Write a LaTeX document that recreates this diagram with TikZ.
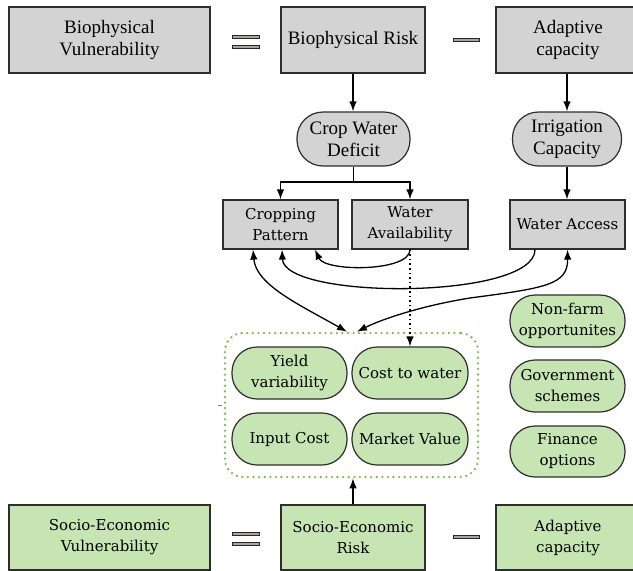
\documentclass[tikz,border=0pt]{standalone}
\usepackage{fontspec}
\setmainfont{Liberation Serif}
\newfontfamily\dvs{DejaVu Serif}
\usetikzlibrary{arrows.meta,calc}

\definecolor{boxgray}{HTML}{D3D3D3}
\definecolor{boxgreen}{HTML}{C6E5B2}
\definecolor{edge}{HTML}{2E2E2E}
\definecolor{dotgreen}{HTML}{7CC04A}
\definecolor{barfill}{HTML}{A9A898}

\tikzset{
  base/.style={draw=edge, line width=1.2pt, align=center, inner sep=0pt},
  bigtxt/.style={font=\fontsize{19}{22}\selectfont},
  midtxt/.style={font=\dvs\fontsize{15}{21}\selectfont},
  graybox/.style={base, fill=boxgray},
  greenbox/.style={base, fill=boxgreen},
  pill/.style={rounded corners=25pt},
  wide/.style={minimum width=201pt, minimum height=66pt},
  term/.style={minimum width=144pt, minimum height=66pt},
  small/.style={minimum width=115pt, minimum height=49pt},
  oval/.style={minimum width=115pt, minimum height=52pt, pill},
  bar/.style={draw=black!85, fill=barfill, line width=0.8pt, inner sep=0pt},
  arr/.style={draw=black, line width=1.3pt, -{Latex[length=10pt,width=7.5pt]}},
  dblarr/.style={draw=black, line width=1.3pt, {Latex[length=10pt,width=7.5pt]}-{Latex[length=10pt,width=7.5pt]}},
}

\begin{document}
\begin{tikzpicture}[x=1pt,y=-1pt]
\useasboundingbox (0,0) rectangle (633,571);

% ---- biophysical row ----
\node[graybox, bigtxt, wide] (bv) at (109.5,40) {Biophysical\\Vulnerability};
\node[graybox, bigtxt, term] (br) at (353,40) {Biophysical Risk};
\node[graybox, bigtxt, term] (acb) at (568,40) {Adaptive\\capacity};

\node[bar, minimum width=27pt, minimum height=3pt] (eqa) at (245.5,37) {};
\node[bar, minimum width=27pt, minimum height=3pt] (eqb) at (245.5,47) {};
\node[bar, minimum width=26pt, minimum height=3pt] (mna) at (466,40) {};

\node[graybox, bigtxt, minimum width=113pt, minimum height=54pt, rounded corners=26pt] (cwd) at (353.5,139) {Crop Water\\Deficit};
\node[graybox, bigtxt, minimum width=109pt, minimum height=54pt, rounded corners=26pt] (ic) at (567,139) {Irrigation\\Capacity};

\node[graybox, midtxt, small] (cp) at (280.5,224.5) {Cropping\\Pattern};
\node[graybox, midtxt, small, minimum width=116pt] (wa) at (410,224.5) {Water\\Availability};
\node[graybox, midtxt, small] (wac) at (567.5,224.5) {Water Access};

\draw[arr] (br.south) -- (br.south |- cwd.north);
\draw[arr] (acb.south -| ic.north) -- (ic.north);
\coordinate (j) at (353.5,182);
\draw[line width=1.3pt] (cwd.south) -- (j);
\draw[arr] (j) -| (cp.north);
\draw[arr] (j) -| (wa.north);
\draw[arr] (ic.south) -- (ic.south |- wac.north);

% ---- socio-economic factors ----
\node[draw=dotgreen, line width=2.6pt, dash pattern=on 0pt off 5.6pt, line cap=round,
      rounded corners=18pt, minimum width=253pt, minimum height=144pt, inner sep=0pt] (grp) at (351.5,405) {};

\node[greenbox, midtxt, oval] (yv) at (289.5,373) {Yield\\variability};
\node[greenbox, midtxt, oval, minimum width=116pt] (cw) at (410,373) {Cost to water};
\node[greenbox, midtxt, oval] (inc) at (289.5,439) {Input Cost};
\node[greenbox, midtxt, oval, minimum width=116pt] (mv) at (410,439) {Market Value};

\node[greenbox, midtxt, oval] (nf) at (567.5,321) {Non-farm\\opportunites};
\node[greenbox, midtxt, oval] (gs) at (567.5,386) {Government\\schemes};
\node[greenbox, midtxt, oval, minimum height=51pt] (fo) at (567.5,451.5) {Finance\\options};

\draw[draw=gray, line width=0.8pt] (218,405) -- (222,405);

% ---- links between the two layers ----
\draw[arr] (wa.south) .. controls (410,272) and (325,272) .. ([xshift=34.5pt]cp.south);
\draw[arr] ([xshift=-32.5pt]wac.south) .. controls (535,300) and (284,300) .. ([xshift=1.5pt]cp.south);
\draw[dblarr] ([xshift=-27.5pt]cp.south) .. controls (256,285) and (300,305) .. ([xshift=-4.5pt]grp.north);
\draw[dblarr] (wac.south) .. controls (568,285) and (545,288) .. (470,298)
                          .. controls (420,306) and (380,320) .. ([xshift=5.5pt]grp.north);
\draw[arr, dash pattern=on 1.6pt off 3pt] (wa.south) -- (cw.north);

% ---- socio-economic row ----
\node[greenbox, midtxt, wide, minimum height=65pt] (sev) at (109.5,537.5) {Socio-Economic\\Vulnerability};
\node[greenbox, midtxt, term, minimum height=65pt] (ser) at (353,537.5) {Socio-Economic\\Risk};
\node[greenbox, midtxt, term, minimum height=65pt] (acs) at (568,537.5) {Adaptive\\capacity};

\node[bar, minimum width=27pt, minimum height=3pt] (eqc) at (245.5,534) {};
\node[bar, minimum width=27pt, minimum height=3pt] (eqd) at (245.5,544) {};
\node[bar, minimum width=26pt, minimum height=3pt] (mnb) at (466,537) {};

\draw[arr] (ser.north) -- (ser.north |- grp.south);
\end{tikzpicture}
\end{document}
